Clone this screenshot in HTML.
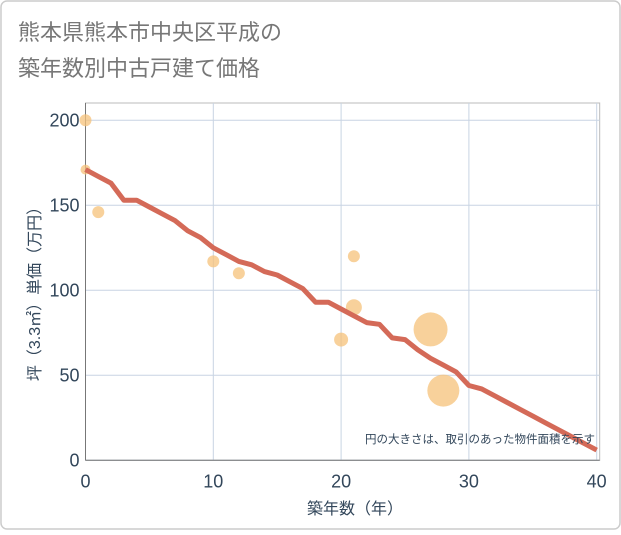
<!DOCTYPE html>
<html><head><meta charset="utf-8"><style>
body{margin:0;background:#fff;font-family:"Liberation Sans","Noto Sans CJK JP",sans-serif}
#wrap{position:relative;width:621px;height:530px}
</style></head><body>
<div id="wrap">
<svg id="svg" width="621" height="530" font-family="Liberation Sans, Noto Sans CJK JP, sans-serif">
<rect x="1" y="1" width="619" height="528" rx="6" fill="#fff" stroke="#ccc" stroke-width="1.5"/>
<text x="18" y="40" font-size="22" fill="#777">熊本県熊本市中央区平成の</text>
<text x="18" y="76" font-size="22" fill="#777">築年数別中古戸建て価格</text>
<g id="grid"></g>
<g id="marks"></g>
<text x="595" y="443" font-size="11.5" fill="#33475b" text-anchor="end">円の大きさは、取引のあった物件面積を示す</text>
<text x="355" y="514" font-size="16" fill="#33475b" text-anchor="middle">築年数（年）</text>
<text transform="translate(40,290) rotate(-90)" font-size="16" fill="#33475b" text-anchor="middle">坪（3.3㎡）単価（万円）</text>
</svg>
</div>
<script>
const xTicks=[0,10,20,30,40];
const yTicks=[0,50,100,150,200];
const lineYears=[0,1,2,3,4,5,6,7,8,9,10,11,12,13,14,15,16,17,18,19,20,21,22,23,24,25,26,27,28,29,30,31,32,33,34,35,36,37,38,39,40];
const lineValues=[171,167,163,153,153,149,145,141,135,131,125,121,117,115,111,109,105,101,93,93,89,85,81,80,72,71,65,60,56,52,44,42,38,34,30,26,22,18,14,10,6];
const dotYears=[0,0,1,10,12,20,21,21,27,28];
const dotValues=[200,171,146,117,110,71,120,90,77,41];
const dotRadii=[6,5,6,6,6,7,6,8,17,16];
const L=85.5,R=596.7,T=103,B=460.3;
const xs=v=>L+(v-0)/40*(R-L);
const ys=v=>B-(v/200)*(B-120.3);
const NS="http://www.w3.org/2000/svg";
const grid=document.getElementById('grid'),marks=document.getElementById('marks');
function mk(tag,attrs,parent){const e=document.createElementNS(NS,tag);for(const k in attrs)e.setAttribute(k,attrs[k]);parent.appendChild(e);return e;}
const frame=mk('rect',{x:L,y:T,width:R-L+3,height:B-T,fill:'none',stroke:'#bbb'},grid);


xTicks.forEach(t=>{
 const g=mk('line',{x1:xs(t),x2:xs(t),y1:T,y2:B,stroke:'#c8d4e3'},grid);
 
 
 const tx=mk('text',{x:xs(t),y:B+27,'font-size':18,fill:'#33475b','text-anchor':'middle'},grid);
 tx.textContent=t;
 
 
});
yTicks.forEach(t=>{
 const g=mk('line',{x1:L,x2:R+3,y1:ys(t),y2:ys(t),stroke:'#c8d4e3'},grid);
 
 
 const tx=mk('text',{x:L-6,y:ys(t)+6,'font-size':18,fill:'#33475b','text-anchor':'end'},grid);
 tx.textContent=t;
 
 
});
mk('line',{x1:L,x2:L,y1:T,y2:B,stroke:'#777'},grid);
mk('line',{x1:L,x2:R+3,y1:B,y2:B,stroke:'#777'},grid);
dotYears.forEach((y,i)=>{
 const c=mk('circle',{cx:xs(y),cy:ys(dotValues[i]),r:dotRadii[i],fill:'#f5c27a','fill-opacity':0.75},marks);
 
 
});
const p=mk('polyline',{points:lineYears.map((y,i)=>xs(y)+','+ys(lineValues[i])).join(' '),fill:'none',stroke:'#d46a58',"stroke-width":5,"stroke-linejoin":'round'},marks);


</script>
</body></html>
